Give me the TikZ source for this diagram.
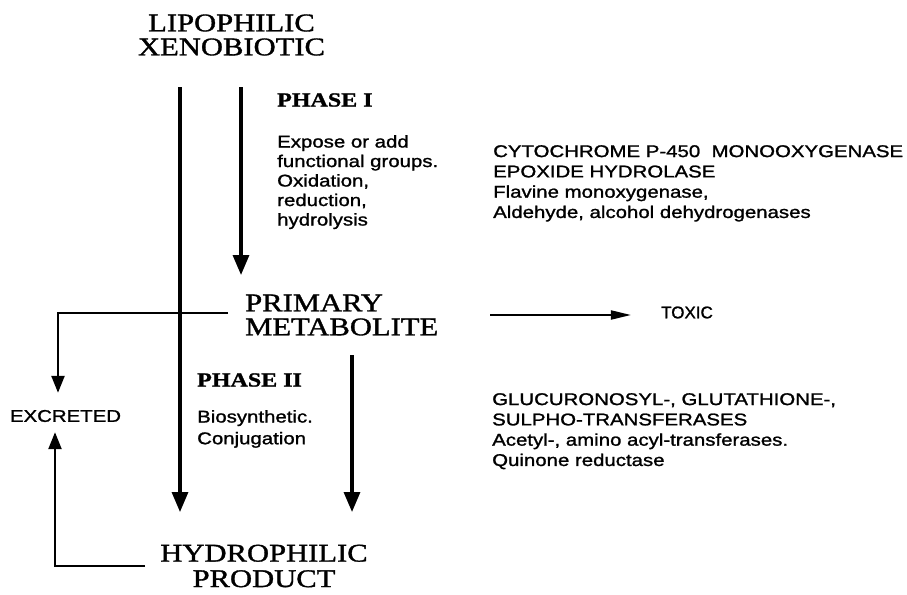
\documentclass[tikz,border=0pt]{standalone}
\usepackage{fontspec}
\setmainfont{Liberation Sans}[FakeStretch=1.2, FakeBold=1.3]
\newfontfamily\plainsans{Liberation Sans}[FakeBold=1.3]
\newfontfamily\headfont{Liberation Serif}[FakeStretch=1.2, FakeBold=1.3]
\usetikzlibrary{arrows.meta}

\begin{document}
\begin{tikzpicture}[x=1pt, y=-1pt, every node/.style={inner sep=0pt},
  headtxt/.style={font=\headfont\fontsize{25.5}{24}\selectfont, align=center},
  phasetxt/.style={font=\headfont\bfseries\fontsize{20}{20}\selectfont, anchor=west},
  notetxt/.style={font=\fontsize{17}{20.3}\selectfont, align=left, anchor=north west},
  tagtxt/.style={font=\fontsize{17}{20}\selectfont},
  mainarrow/.style={line width=3.2pt, -{Triangle[width=16pt,length=20pt]}},
  exarrow/.style={line width=2.4pt, -{Triangle[width=13pt,length=17pt]}},
  toxarrow/.style={line width=2pt, -{Triangle[width=9pt,length=20pt]}}]

\useasboundingbox (0,0) rectangle (907,594);

% Composti
\node[headtxt] (lipo) at (231.5,35) {LIPOPHILIC\\XENOBIOTIC};
\node[headtxt, align=left, anchor=west] (prim) at (245,315) {PRIMARY\\METABOLITE};
\node[headtxt, font=\headfont\fontsize{25.5}{25.5}\selectfont] (hydro) at (264,566) {HYDROPHILIC\\PRODUCT};
\node[tagtxt, font=\plainsans\fontsize{17}{20}\selectfont] (toxic) at (687,312.5) {TOXIC};
\node[tagtxt] (excr) at (65.5,416) {EXCRETED};

% Fasi ed enzimi
\node[phasetxt] (ph1) at (277,100) {PHASE I};
\node[notetxt, font=\fontsize{17}{19.5}\selectfont] (ph1txt) at (277,135) {Expose or add\\functional groups.\\Oxidation,\\reduction,\\hydrolysis};
\node[notetxt] (enz1) at (493,145) {CYTOCHROME P-450\ \ MONOOXYGENASE\\EPOXIDE HYDROLASE\\Flavine monoxygenase,\\Aldehyde, alcohol dehydrogenases};
\node[phasetxt] (ph2) at (197,380) {PHASE II};
\node[notetxt, font=\fontsize{17}{21.7}\selectfont] (ph2txt) at (197,410) {Biosynthetic.\\Conjugation};
\node[notetxt] (enz2) at (492,393) {GLUCURONOSYL-, GLUTATHIONE-,\\SULPHO-TRANSFERASES\\Acetyl-, amino acyl-transferases.\\Quinone reductase};

% Estremi delle frecce
\coordinate (ltop) at (180,87);
\coordinate (lbot) at (180,512);
\coordinate (p1top) at (241,87);
\coordinate (p1bot) at (241,275);
\coordinate (p2top) at (352,355);
\coordinate (p2bot) at (352,512);
\coordinate (exin) at (228,313);
\coordinate (exout) at (145,566);
\coordinate (toxin) at (490,315);

% Frecce
\draw[mainarrow] (ltop) -- (lbot);
\draw[mainarrow] (p1top) -- (p1bot);
\draw[mainarrow] (p2top) -- (p2bot);
\draw[exarrow, shorten >=17pt] (exin) -| ([xshift=-7.5pt]excr.north);
\draw[exarrow, shorten >=10pt] (exout) -| ([xshift=-10.5pt]excr.south);
\draw[toxarrow, shorten >=30pt] (toxin) -- (toxic.west |- toxin);

\end{tikzpicture}
\end{document}
